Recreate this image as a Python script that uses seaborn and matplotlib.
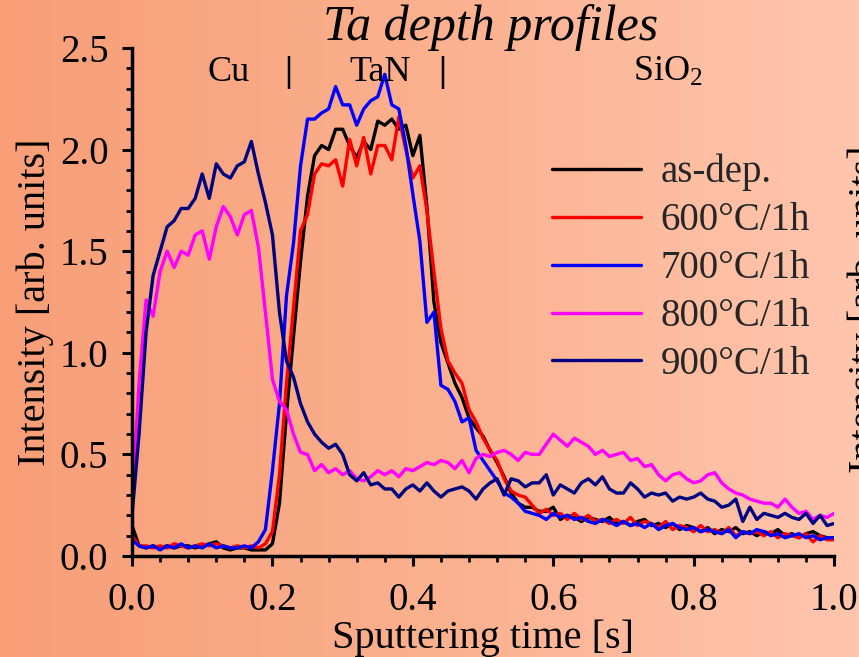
import numpy as np
import pandas as pd
import matplotlib
matplotlib.use("Agg")
import matplotlib.pyplot as plt
from matplotlib.colors import LinearSegmentedColormap
from matplotlib.ticker import MultipleLocator
import seaborn as sns

# sputtering time grid, 0.01 s steps
time_s = np.round(np.linspace(0.0, 1.0, 101), 2)

as_dep = [0.15, 0.05, 0.04, 0.05, 0.04, 0.05, 0.04, 0.05, 0.05, 0.04,
          0.05, 0.06, 0.07, 0.04, 0.03, 0.04, 0.04, 0.03, 0.03, 0.03,
          0.06, 0.26, 0.70, 1.08, 1.45, 1.77, 1.97, 2.02, 2.00, 2.10,
          2.10, 2.02, 1.96, 2.04, 2.00, 2.14, 2.12, 2.15, 2.10, 2.12,
          1.97, 2.07, 1.72, 1.25, 1.05, 0.95, 0.85, 0.78, 0.68, 0.63,
          0.59, 0.52, 0.46, 0.39, 0.31, 0.26, 0.24, 0.24, 0.22, 0.22,
          0.24, 0.18, 0.20, 0.19, 0.17, 0.19, 0.18, 0.17, 0.19, 0.16,
          0.17, 0.15, 0.17, 0.18, 0.15, 0.16, 0.14, 0.16, 0.13, 0.15,
          0.14, 0.12, 0.14, 0.11, 0.13, 0.12, 0.14, 0.11, 0.12, 0.10,
          0.12, 0.11, 0.13, 0.10, 0.11, 0.09, 0.11, 0.12, 0.10, 0.09, 0.09]

t600 = [0.10, 0.05, 0.05, 0.04, 0.05, 0.04, 0.06, 0.05, 0.04, 0.05,
        0.06, 0.05, 0.06, 0.05, 0.04, 0.05, 0.04, 0.05, 0.04, 0.06,
        0.12, 0.40, 0.85, 1.22, 1.60, 1.68, 1.88, 1.93, 1.92, 1.95,
        1.82, 2.05, 1.92, 2.06, 1.88, 2.02, 2.02, 1.95, 2.16, 2.00,
        1.86, 1.92, 1.70, 1.40, 1.12, 0.96, 0.90, 0.85, 0.72, 0.66,
        0.58, 0.52, 0.47, 0.38, 0.32, 0.30, 0.29, 0.25, 0.21, 0.23,
        0.20, 0.21, 0.18, 0.21, 0.18, 0.20, 0.17, 0.18, 0.16, 0.18,
        0.16, 0.19, 0.15, 0.17, 0.16, 0.14, 0.17, 0.13, 0.15, 0.14,
        0.12, 0.15, 0.12, 0.13, 0.11, 0.14, 0.10, 0.12, 0.11, 0.12,
        0.10, 0.12, 0.09, 0.11, 0.10, 0.09, 0.11, 0.07, 0.10, 0.08, 0.08]

t700 = [0.08, 0.05, 0.04, 0.05, 0.03, 0.05, 0.04, 0.06, 0.04, 0.05,
        0.04, 0.06, 0.04, 0.05, 0.04, 0.04, 0.05, 0.04, 0.07, 0.13,
        0.42, 0.75, 1.28, 1.54, 1.92, 2.15, 2.15, 2.18, 2.20, 2.31,
        2.22, 2.22, 2.12, 2.20, 2.24, 2.26, 2.37, 2.22, 2.20, 2.02,
        1.78, 1.55, 1.15, 1.20, 0.84, 0.82, 0.76, 0.66, 0.68, 0.52,
        0.47, 0.42, 0.37, 0.31, 0.29, 0.26, 0.22, 0.21, 0.20, 0.18,
        0.21, 0.19, 0.20, 0.18, 0.19, 0.17, 0.16, 0.18, 0.17, 0.15,
        0.17, 0.15, 0.16, 0.14, 0.16, 0.13, 0.15, 0.16, 0.14, 0.13,
        0.14, 0.12, 0.13, 0.12, 0.11, 0.13, 0.09, 0.12, 0.11, 0.13,
        0.12, 0.10, 0.11, 0.09, 0.10, 0.11, 0.09, 0.10, 0.08, 0.09, 0.09]

t800 = [0.25, 0.85, 1.26, 1.18, 1.40, 1.50, 1.42, 1.50, 1.48, 1.58,
        1.60, 1.46, 1.62, 1.72, 1.67, 1.58, 1.68, 1.70, 1.52, 1.20,
        0.87, 0.76, 0.72, 0.60, 0.51, 0.50, 0.42, 0.45, 0.41, 0.43,
        0.40, 0.42, 0.38, 0.37, 0.39, 0.42, 0.40, 0.42, 0.39, 0.43,
        0.42, 0.44, 0.46, 0.45, 0.47, 0.46, 0.43, 0.47, 0.41, 0.48,
        0.50, 0.49, 0.51, 0.52, 0.50, 0.47, 0.51, 0.50, 0.50, 0.55,
        0.60, 0.57, 0.54, 0.58, 0.56, 0.54, 0.50, 0.52, 0.49, 0.50,
        0.51, 0.47, 0.48, 0.44, 0.45, 0.40, 0.37, 0.40, 0.41, 0.38,
        0.36, 0.37, 0.40, 0.41, 0.36, 0.33, 0.31, 0.30, 0.28, 0.27,
        0.26, 0.26, 0.24, 0.28, 0.24, 0.21, 0.22, 0.18, 0.20, 0.19, 0.21]

t900 = [0.20, 0.60, 1.10, 1.38, 1.50, 1.62, 1.65, 1.71, 1.71, 1.76,
        1.88, 1.76, 1.93, 1.88, 1.86, 1.92, 1.94, 2.04, 1.88, 1.74,
        1.58, 1.20, 0.96, 0.88, 0.75, 0.66, 0.60, 0.56, 0.53, 0.55,
        0.50, 0.40, 0.37, 0.41, 0.35, 0.36, 0.33, 0.33, 0.29, 0.33,
        0.35, 0.32, 0.36, 0.32, 0.29, 0.32, 0.33, 0.34, 0.32, 0.28,
        0.33, 0.36, 0.38, 0.30, 0.38, 0.37, 0.34, 0.36, 0.36, 0.40,
        0.30, 0.35, 0.33, 0.31, 0.36, 0.38, 0.35, 0.39, 0.33, 0.31,
        0.31, 0.36, 0.33, 0.29, 0.31, 0.30, 0.31, 0.27, 0.29, 0.28,
        0.29, 0.31, 0.28, 0.27, 0.24, 0.25, 0.28, 0.17, 0.24, 0.18,
        0.21, 0.20, 0.19, 0.21, 0.19, 0.18, 0.21, 0.16, 0.20, 0.15, 0.16]

labels = ["as-dep.", "600°C/1h", "700°C/1h", "800°C/1h", "900°C/1h"]
colors = ["#000000", "#ff0000", "#0000ff", "#ff00ff", "#000080"]
layer_names = ["Cu", "|", "TaN", "|", "SiO$_2$"]
layer_pos = [0.137, 0.222, 0.353, 0.442, 0.763]

sns.set_theme(style="ticks")
plt.rcParams["font.family"] = ["Liberation Serif", "DejaVu Serif"]
plt.rcParams["mathtext.default"] = "regular"

df = pd.concat([pd.DataFrame({"time": time_s, "intensity": vals, "sample": lab})
                for vals, lab in zip([as_dep, t600, t700, t800, t900], labels)])

fig = plt.figure(figsize=(8.59, 6.57), dpi=100)

# orange -> peach gradient background
bg = fig.add_axes([0, 0, 1, 1], zorder=-10)
cmap = LinearSegmentedColormap.from_list("bg", ["#f79e77", "#fbb08e", "#ffc6ae"])
bg.imshow(np.linspace(0, 1, 256)[None, :], aspect="auto", cmap=cmap,
          extent=[0, 1, 0, 1])
bg.set_axis_off()

ax = fig.add_axes([0.1537, 0.1537, 0.8173, 0.7733])
ax.set_facecolor("none")
sns.lineplot(data=df, x="time", y="intensity", hue="sample", hue_order=labels,
             palette=dict(zip(labels, colors)), sort=False, estimator=None,
             linewidth=2.4, ax=ax, legend=False)

ax.set_xlim(0, 1.0)
ax.set_ylim(0, 2.5)
ax.xaxis.set_major_locator(MultipleLocator(0.2))
ax.xaxis.set_minor_locator(MultipleLocator(0.04))
ax.yaxis.set_major_locator(MultipleLocator(0.5))
ax.yaxis.set_minor_locator(MultipleLocator(0.1))
ax.xaxis.set_major_formatter(plt.FormatStrFormatter("%.1f"))
ax.yaxis.set_major_formatter(plt.FormatStrFormatter("%.1f"))
ax.tick_params(which="major", direction="out", length=7, width=2.2,
               labelsize=28, color="black", labelcolor="black")
ax.tick_params(axis="x", which="major", pad=12)
ax.tick_params(axis="y", which="major", pad=10)
ax.tick_params(which="minor", direction="out", length=4, width=2.0, color="black")
sns.despine(ax=ax)
for s in ["left", "bottom"]:
    ax.spines[s].set_linewidth(2.5)
    ax.spines[s].set_color("black")

ax.set_xlabel("Sputtering time [s]", fontsize=29, color="black", labelpad=0)
ax.set_ylabel("Intensity [arb. units]", fontsize=29, color="black", labelpad=4)

for name, xp in zip(layer_names, layer_pos):
    ax.text(xp, 2.38, name, ha="center", va="center", fontsize=26,
            fontweight="bold" if name == "|" else "normal", color="black")

handles = ax.get_lines()[:5]
ax.legend(handles, labels, loc="upper left", bbox_to_anchor=(0.576, 0.822),
          frameon=False, fontsize=28, handlelength=2.3, handletextpad=0.5,
          labelspacing=0.28, borderaxespad=0)

fig.text(0.571, 0.958, "Ta depth profiles", ha="center", va="center",
         fontsize=36, style="italic", color="black")

# edge of the neighbouring panel's axis label, cut off by the figure border
fig.text(0.987, 0.53, "Intensity [arb. units]", rotation=90, ha="left",
         va="center", fontsize=29, color="black")

fig.savefig("out.png", dpi=100)
